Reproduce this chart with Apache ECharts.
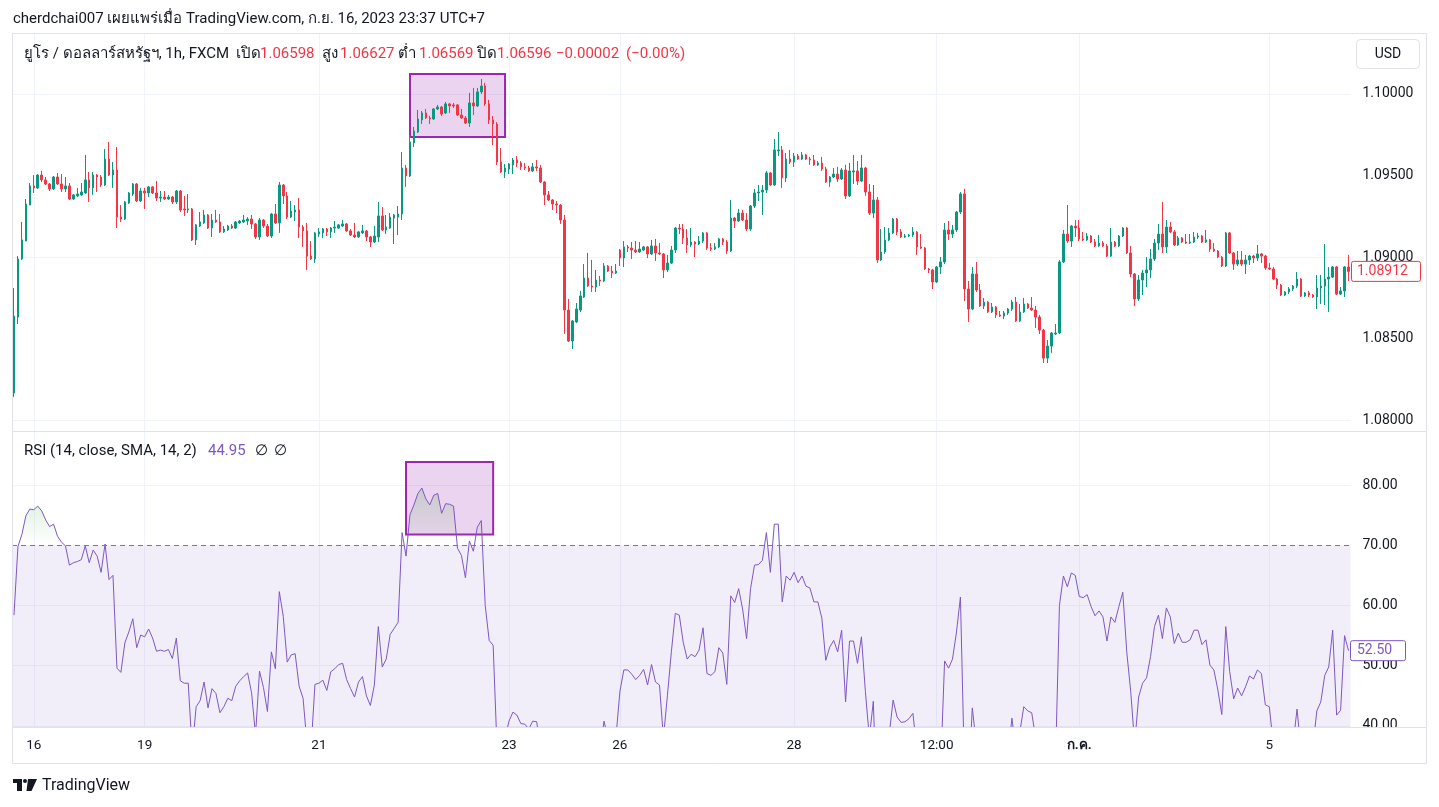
<!DOCTYPE html>
<html>
<head>
<meta charset="utf-8">
<title>EURUSD 1h RSI</title>
<script src="https://cdn.jsdelivr.net/npm/echarts@6/dist/echarts.min.js"></script>
<style>
html, body { margin:0; padding:0; background:#ffffff; }
#chart { width:1439px; height:807px; }
</style>
</head>
<body>
<div id="chart"></div>
<script>
// ---------------- data ----------------
const opens = [
1.08166,1.08632,1.08988,1.09098,1.09319,1.09436,1.09424,1.09503,1.09473,1.09448,
1.09418,1.09491,1.09448,1.09418,1.09436,1.09356,1.09375,1.09381,1.09393,1.09473,
1.09424,1.09503,1.09491,1.09442,1.09601,1.09503,1.09534,1.09245,1.09233,1.09332,
1.09387,1.09448,1.09344,1.09405,1.09393,1.09430,1.09393,1.09362,1.09368,1.09356,
1.09368,1.09338,1.09405,1.09295,1.09289,1.09295,1.09105,1.09190,1.09209,1.09258,
1.09178,1.09227,1.09215,1.09154,1.09166,1.09190,1.09178,1.09209,1.09215,1.09221,
1.09233,1.09203,1.09123,1.09227,1.09190,1.09129,1.09264,1.09209,1.09442,1.09375,
1.09245,1.09276,1.09289,1.09184,1.09160,1.09006,1.08988,1.09141,1.09148,1.09172,
1.09154,1.09178,1.09178,1.09190,1.09203,1.09160,1.09135,1.09123,1.09148,1.09160,
1.09123,1.09092,1.09123,1.09252,1.09166,1.09178,1.09239,1.09245,1.09264,1.09546,
1.09497,1.09700,1.09767,1.09841,1.09884,1.09853,1.09847,1.09908,1.09920,1.09884,
1.09939,1.09933,1.09933,1.09871,1.09853,1.09822,1.09945,1.09927,1.10013,1.10049,
1.09939,1.09841,1.09816,1.09583,1.09522,1.09540,1.09565,1.09595,1.09577,1.09553,
1.09546,1.09528,1.09553,1.09546,1.09460,1.09381,1.09350,1.09325,1.09319,1.09227,
1.08675,1.08485,1.08602,1.08675,1.08755,1.08871,1.08822,1.08816,1.08859,1.08853,
1.08945,1.08914,1.08902,1.09043,1.08994,1.09062,1.09055,1.09043,1.09031,1.09043,
1.09062,1.09019,1.09068,1.09025,1.09019,1.08921,1.08963,1.09043,1.09178,1.09172,
1.09117,1.09074,1.09092,1.09080,1.09098,1.09148,1.09055,1.09049,1.09062,1.09111,
1.09092,1.09037,1.09239,1.09221,1.09270,1.09227,1.09172,1.09313,1.09393,1.09399,
1.09411,1.09516,1.09442,1.09651,1.09657,1.09485,1.09601,1.09583,1.09620,1.09601,
1.09626,1.09601,1.09595,1.09565,1.09577,1.09540,1.09460,1.09491,1.09509,1.09479,
1.09534,1.09375,1.09522,1.09528,1.09466,1.09546,1.09399,1.09270,1.09350,1.08982,
1.09031,1.09105,1.09148,1.09233,1.09154,1.09123,1.09129,1.09135,1.09154,1.09062,
1.09055,1.08927,1.08921,1.08847,1.08939,1.08970,1.09166,1.09141,1.09166,1.09276,
1.09387,1.08804,1.08681,1.08896,1.08798,1.08700,1.08724,1.08663,1.08694,1.08645,
1.08638,1.08657,1.08681,1.08724,1.08608,1.08663,1.08712,1.08687,1.08675,1.08632,
1.08552,1.08380,1.08454,1.08528,1.08534,1.08970,1.09141,1.09098,1.09190,1.09178,
1.09111,1.09105,1.09129,1.09092,1.09068,1.09086,1.09068,1.09006,1.09092,1.09068,
1.09129,1.09178,1.09025,1.08896,1.08743,1.08859,1.08902,1.08921,1.08988,1.09086,
1.09141,1.09062,1.09184,1.09154,1.09074,1.09117,1.09092,1.09086,1.09092,1.09123,
1.09129,1.09092,1.09105,1.09049,1.09037,1.09000,1.08945,1.09148,1.09025,1.08957,
1.08982,1.08957,1.08982,1.09006,1.08994,1.09019,1.09006,1.08933,1.08927,1.08865,
1.08828,1.08767,1.08786,1.08804,1.08822,1.08865,1.08761,1.08780,1.08767,1.08755,
1.08810,1.08822,1.08865,1.08877,1.08939,1.08773,1.08792,1.08939
];
const closes = [
1.08638,1.08988,1.09105,1.09325,1.09436,1.09424,1.09503,1.09473,1.09448,1.09418,
1.09491,1.09448,1.09418,1.09436,1.09356,1.09381,1.09387,1.09399,1.09473,1.09424,
1.09503,1.09491,1.09442,1.09601,1.09503,1.09534,1.09245,1.09233,1.09338,1.09393,
1.09448,1.09344,1.09405,1.09393,1.09430,1.09393,1.09362,1.09368,1.09356,1.09368,
1.09338,1.09405,1.09289,1.09289,1.09295,1.09105,1.09197,1.09215,1.09258,1.09178,
1.09227,1.09215,1.09154,1.09172,1.09190,1.09178,1.09215,1.09221,1.09227,1.09233,
1.09203,1.09123,1.09227,1.09190,1.09129,1.09264,1.09209,1.09442,1.09375,1.09245,
1.09282,1.09289,1.09184,1.09160,1.09006,1.08988,1.09148,1.09154,1.09172,1.09154,
1.09178,1.09184,1.09197,1.09203,1.09160,1.09135,1.09123,1.09154,1.09160,1.09123,
1.09092,1.09129,1.09252,1.09166,1.09184,1.09245,1.09258,1.09264,1.09546,1.09497,
1.09706,1.09773,1.09847,1.09884,1.09853,1.09847,1.09908,1.09920,1.09877,1.09939,
1.09927,1.09927,1.09871,1.09853,1.09822,1.09945,1.09927,1.10013,1.10049,1.09939,
1.09841,1.09816,1.09583,1.09522,1.09546,1.09571,1.09595,1.09577,1.09553,1.09546,
1.09528,1.09553,1.09546,1.09460,1.09381,1.09350,1.09325,1.09319,1.09227,1.08675,
1.08485,1.08608,1.08681,1.08761,1.08871,1.08822,1.08816,1.08859,1.08853,1.08945,
1.08914,1.08902,1.08914,1.08994,1.09062,1.09055,1.09043,1.09031,1.09049,1.09062,
1.09019,1.09068,1.09025,1.09019,1.08921,1.08963,1.09043,1.09178,1.09172,1.09117,
1.09074,1.09092,1.09080,1.09098,1.09148,1.09055,1.09049,1.09062,1.09111,1.09092,
1.09037,1.09239,1.09221,1.09270,1.09227,1.09172,1.09313,1.09393,1.09399,1.09411,
1.09516,1.09442,1.09657,1.09657,1.09485,1.09601,1.09583,1.09620,1.09601,1.09626,
1.09601,1.09595,1.09565,1.09577,1.09540,1.09460,1.09491,1.09509,1.09479,1.09534,
1.09375,1.09528,1.09528,1.09466,1.09546,1.09399,1.09270,1.09350,1.08982,1.09031,
1.09105,1.09148,1.09233,1.09154,1.09123,1.09129,1.09135,1.09154,1.09062,1.09055,
1.08927,1.08921,1.08847,1.08939,1.08970,1.09166,1.09141,1.09166,1.09276,1.09387,
1.08804,1.08681,1.08896,1.08798,1.08700,1.08724,1.08663,1.08694,1.08645,1.08638,
1.08657,1.08681,1.08724,1.08608,1.08663,1.08712,1.08687,1.08675,1.08632,1.08552,
1.08380,1.08454,1.08534,1.08534,1.08970,1.09141,1.09098,1.09190,1.09178,1.09111,
1.09105,1.09129,1.09092,1.09068,1.09086,1.09068,1.09006,1.09092,1.09068,1.09129,
1.09178,1.09025,1.08896,1.08743,1.08859,1.08902,1.08921,1.08988,1.09086,1.09141,
1.09062,1.09184,1.09154,1.09074,1.09117,1.09092,1.09086,1.09092,1.09123,1.09129,
1.09092,1.09105,1.09049,1.09037,1.09000,1.08945,1.09148,1.09025,1.08957,1.08982,
1.08957,1.08982,1.09006,1.08994,1.09019,1.09006,1.08933,1.08927,1.08865,1.08828,
1.08767,1.08786,1.08804,1.08822,1.08865,1.08761,1.08780,1.08767,1.08755,1.08810,
1.08822,1.08865,1.08877,1.08939,1.08773,1.08792,1.08939,1.08912
];
const lows = [
1.08142,1.08589,1.08982,1.09098,1.09319,1.09393,1.09418,1.09460,1.09442,1.09405,
1.09411,1.09442,1.09399,1.09399,1.09350,1.09350,1.09368,1.09375,1.09387,1.09338,
1.09381,1.09399,1.09430,1.09436,1.09497,1.09424,1.09178,1.09215,1.09227,1.09325,
1.09375,1.09338,1.09338,1.09295,1.09368,1.09387,1.09344,1.09338,1.09350,1.09350,
1.09325,1.09325,1.09276,1.09252,1.09270,1.09098,1.09074,1.09184,1.09203,1.09172,
1.09123,1.09209,1.09148,1.09148,1.09160,1.09172,1.09172,1.09203,1.09209,1.09197,
1.09172,1.09111,1.09105,1.09178,1.09123,1.09117,1.09203,1.09148,1.09325,1.09233,
1.09239,1.09221,1.09117,1.09062,1.08921,1.08982,1.08964,1.09123,1.09117,1.09129,
1.09117,1.09148,1.09172,1.09184,1.09154,1.09129,1.09117,1.09117,1.09141,1.09098,
1.09062,1.09086,1.09092,1.09160,1.09141,1.09172,1.09080,1.09135,1.09227,1.09430,
1.09491,1.09675,1.09761,1.09816,1.09847,1.09816,1.09841,1.09902,1.09865,1.09877,
1.09884,1.09914,1.09865,1.09847,1.09816,1.09798,1.09871,1.09920,1.10000,1.09927,
1.09816,1.09687,1.09565,1.09516,1.09485,1.09509,1.09509,1.09553,1.09534,1.09534,
1.09522,1.09522,1.09528,1.09454,1.09319,1.09344,1.09289,1.09270,1.09203,1.08528,
1.08479,1.08436,1.08595,1.08663,1.08749,1.08816,1.08786,1.08786,1.08822,1.08847,
1.08908,1.08871,1.08896,1.08945,1.08939,1.09031,1.08988,1.09025,1.09025,1.09037,
1.08994,1.09013,1.08976,1.09013,1.08871,1.08908,1.08957,1.09025,1.09141,1.09080,
1.09025,1.09062,1.09000,1.09074,1.09086,1.09043,1.09037,1.09043,1.09055,1.09074,
1.09019,1.09031,1.09178,1.09215,1.09221,1.09160,1.09160,1.09301,1.09344,1.09258,
1.09393,1.09436,1.09436,1.09620,1.09424,1.09460,1.09571,1.09553,1.09595,1.09595,
1.09595,1.09565,1.09559,1.09559,1.09528,1.09454,1.09430,1.09485,1.09460,1.09473,
1.09356,1.09368,1.09448,1.09442,1.09460,1.09375,1.09258,1.09239,1.08964,1.08976,
1.09019,1.09098,1.09141,1.09135,1.09117,1.09117,1.09123,1.09123,1.09013,1.09049,
1.08921,1.08902,1.08804,1.08841,1.08896,1.08957,1.09105,1.09117,1.09154,1.09264,
1.08730,1.08602,1.08675,1.08786,1.08694,1.08681,1.08657,1.08657,1.08626,1.08632,
1.08620,1.08645,1.08669,1.08602,1.08602,1.08657,1.08681,1.08669,1.08565,1.08528,
1.08350,1.08350,1.08411,1.08522,1.08528,1.08964,1.09086,1.09062,1.09123,1.09098,
1.09098,1.09098,1.09086,1.09062,1.09062,1.09062,1.09000,1.09000,1.09062,1.09062,
1.09123,1.09019,1.08877,1.08700,1.08730,1.08767,1.08816,1.08871,1.08976,1.09043,
1.09025,1.09025,1.09148,1.09068,1.09068,1.09086,1.09080,1.09080,1.09086,1.09111,
1.09086,1.09086,1.09031,1.09031,1.08994,1.08939,1.08939,1.09019,1.08921,1.08945,
1.08945,1.08896,1.08951,1.08963,1.08976,1.08963,1.08921,1.08921,1.08859,1.08804,
1.08761,1.08761,1.08773,1.08792,1.08810,1.08755,1.08755,1.08755,1.08749,1.08681,
1.08712,1.08706,1.08663,1.08871,1.08767,1.08767,1.08755,1.08853
];
const highs = [
1.08810,1.09006,1.09215,1.09356,1.09454,1.09503,1.09509,1.09528,1.09491,1.09454,
1.09497,1.09516,1.09509,1.09491,1.09454,1.09387,1.09424,1.09454,1.09626,1.09522,
1.09522,1.09509,1.09503,1.09663,1.09706,1.09583,1.09675,1.09319,1.09344,1.09399,
1.09454,1.09454,1.09424,1.09424,1.09436,1.09436,1.09466,1.09405,1.09405,1.09381,
1.09375,1.09411,1.09411,1.09375,1.09387,1.09301,1.09203,1.09276,1.09289,1.09264,
1.09264,1.09289,1.09264,1.09190,1.09197,1.09203,1.09221,1.09227,1.09258,1.09245,
1.09258,1.09209,1.09239,1.09233,1.09203,1.09270,1.09325,1.09460,1.09448,1.09399,
1.09344,1.09319,1.09362,1.09197,1.09209,1.09098,1.09154,1.09178,1.09178,1.09178,
1.09184,1.09221,1.09203,1.09227,1.09209,1.09172,1.09209,1.09160,1.09197,1.09166,
1.09129,1.09190,1.09338,1.09307,1.09258,1.09270,1.09264,1.09313,1.09644,1.09565,
1.09749,1.09798,1.09902,1.09896,1.09908,1.09866,1.09914,1.09933,1.09927,1.09951,
1.09945,1.09945,1.09939,1.09908,1.09865,1.10007,1.10037,1.10037,1.10092,1.10068,
1.09964,1.09865,1.09828,1.09669,1.09571,1.09577,1.09608,1.09620,1.09589,1.09577,
1.09559,1.09577,1.09595,1.09565,1.09466,1.09405,1.09356,1.09344,1.09325,1.09258,
1.08743,1.08614,1.08718,1.08792,1.08957,1.09025,1.08982,1.08921,1.08884,1.08963,
1.08951,1.08945,1.08957,1.09049,1.09098,1.09074,1.09092,1.09098,1.09092,1.09068,
1.09068,1.09105,1.09111,1.09086,1.09025,1.09013,1.09068,1.09184,1.09203,1.09203,
1.09172,1.09178,1.09098,1.09129,1.09154,1.09154,1.09086,1.09086,1.09117,1.09117,
1.09105,1.09350,1.09245,1.09295,1.09289,1.09270,1.09319,1.09418,1.09442,1.09442,
1.09528,1.09522,1.09724,1.09767,1.09681,1.09638,1.09657,1.09638,1.09632,1.09644,
1.09632,1.09614,1.09626,1.09589,1.09614,1.09553,1.09497,1.09546,1.09553,1.09546,
1.09565,1.09577,1.09626,1.09589,1.09626,1.09553,1.09448,1.09442,1.09368,1.09172,
1.09184,1.09178,1.09239,1.09239,1.09172,1.09141,1.09141,1.09184,1.09160,1.09141,
1.09062,1.08933,1.08927,1.08945,1.09000,1.09209,1.09221,1.09197,1.09282,1.09399,
1.09418,1.08853,1.08939,1.08970,1.08835,1.08749,1.08730,1.08718,1.08700,1.08669,
1.08669,1.08687,1.08737,1.08755,1.08712,1.08749,1.08718,1.08755,1.08700,1.08645,
1.08559,1.08491,1.08540,1.08589,1.08982,1.09166,1.09319,1.09197,1.09227,1.09227,
1.09154,1.09148,1.09135,1.09111,1.09135,1.09098,1.09080,1.09178,1.09098,1.09135,
1.09184,1.09184,1.09068,1.08902,1.08890,1.08921,1.09000,1.09049,1.09111,1.09203,
1.09338,1.09227,1.09215,1.09166,1.09129,1.09123,1.09141,1.09141,1.09154,1.09148,
1.09135,1.09166,1.09111,1.09086,1.09043,1.09006,1.09154,1.09154,1.09031,1.09037,
1.09037,1.09013,1.09013,1.09013,1.09074,1.09025,1.09013,1.08963,1.08939,1.08871,
1.08835,1.08792,1.08816,1.08828,1.08908,1.08871,1.08786,1.08792,1.08773,1.08890,
1.08890,1.09080,1.08939,1.08945,1.08945,1.08816,1.08945,1.09013
];
const rsiValues = [
58.4,69.8,71.8,74.9,76.0,75.9,76.5,75.7,74.2,73.1,
73.5,71.5,70.5,69.9,66.7,67.1,67.3,67.6,69.9,67.1,
69.2,68.2,65.5,70.2,64.3,65.0,49.6,48.9,53.8,55.6,
57.8,53.0,55.1,54.8,56.1,54.6,52.4,52.6,52.4,52.7,
51.2,54.6,47.5,47.1,47.1,36.0,43.2,44.2,47.3,43.0,
46.2,45.4,42.2,43.2,44.6,44.2,46.6,47.5,48.2,48.8,
45.5,38.5,49.1,46.4,42.4,52.3,49.5,62.3,58.2,50.6,
51.8,52.0,46.6,44.6,37.0,36.0,46.9,47.1,47.6,45.9,
49.0,49.5,50.2,50.4,47.7,46.2,44.8,47.3,48.2,45.0,
43.4,46.8,56.5,49.8,51.1,55.2,56.2,57.2,72.1,68.2,
75.1,76.7,78.6,79.5,77.7,76.7,78.3,78.6,75.3,76.9,
76.8,76.5,69.5,68.3,64.6,70.7,69.0,73.0,74.1,60.0,
54.2,53.4,36.0,34.0,38.0,40.8,42.3,41.8,40.4,40.3,
39.5,40.8,40.7,36.0,30.0,28.0,26.0,26.0,23.0,14.0,
12.0,20.0,26.0,30.0,36.0,34.0,34.0,36.0,36.0,40.8,
38.0,37.0,38.0,45.7,49.3,49.3,48.6,47.7,48.4,49.4,
46.8,50.2,47.3,46.8,38.0,45.0,52.3,58.7,58.4,53.9,
51.1,51.9,51.5,52.6,56.3,48.7,48.4,49.0,53.0,52.1,
46.9,61.6,60.5,62.8,59.4,54.5,62.8,66.7,66.8,67.5,
72.1,65.5,73.5,73.5,60.6,64.9,64.2,65.5,63.8,64.9,
63.2,62.9,60.6,60.6,57.9,50.9,53.1,54.2,52.3,55.9,
44.0,54.1,54.1,50.4,54.8,45.7,38.0,44.1,25.0,30.0,
37.0,38.5,44.3,41.5,40.6,40.7,41.2,42.1,36.0,33.0,
28.0,28.0,25.0,31.0,33.0,50.8,49.6,51.1,55.6,61.4,
33.0,30.0,43.0,37.0,33.0,35.0,32.0,34.0,31.0,31.0,
32.0,35.0,41.3,36.0,39.0,43.2,42.5,42.2,38.0,34.0,
27.0,30.0,33.0,33.5,60.0,64.9,63.1,65.4,65.0,61.5,
61.3,61.8,59.8,58.3,59.1,58.1,54.1,58.1,57.2,59.8,
62.2,52.3,45.7,37.0,44.8,47.1,48.0,51.5,56.5,58.4,
54.5,59.6,58.1,53.7,55.4,53.9,53.9,54.3,55.9,55.9,
53.5,54.3,50.1,49.3,46.0,41.9,56.5,49.0,44.5,46.3,
45.0,46.5,48.3,47.8,49.3,48.7,43.5,43.2,37.0,34.0,
30.0,33.0,35.0,37.0,42.8,36.0,37.5,37.0,36.5,42.5,
44.0,48.4,49.8,55.9,41.8,42.6,55.0,52.5
];
// time-axis ticks (1-based bar number -> label)
const tickBars   = [6, 34, 78, 126, 154, 198, 234, 270, 318];
const tickLabels = ['16', '19', '21', '23', '26', '28', '12:00', 'ก.ค.', '5'];
const priceTicks = [1.08, 1.085, 1.09, 1.095, 1.10];
const rsiTicks   = [40, 50, 60, 70, 80];
const rsiBand    = [30, 70];
const priceRange = [1.07933, 1.10368];
const rsiRange   = [39.83, 88.8];
// drawn rectangles (bar numbers, values)
const priceBox = [101, 125, 1.10123, 1.09736];
const rsiBox   = [100, 122, 83.8, 71.8];
// legend texts
const symbolName = 'ยูโร / ดอลลาร์สหรัฐฯ, 1h, FXCM';
const legendOHLC = ['1.06598', '1.06627', '1.06569', '1.06596'];
const legendChange = ['−0.00002', '(−0.00%)'];
const rsiTitle = 'RSI (14, close, SMA, 14, 2)';
const rsiLegendValue = '44.95';

// ---------------- chart ----------------
const FONT = "Roboto, 'Noto Sans', 'DejaVu Sans', 'Liberation Sans', sans-serif";
const UP = '#089981', DOWN = '#f23645', TXT = '#131722', GRID = '#f0f3fa';
const chart = echarts.init(document.getElementById('chart'), null, {renderer: 'canvas'});

const cats = opens.map((_, i) => String(i));
const candles = opens.map((o, i) => [o, closes[i], lows[i], highs[i]]);
const tickPos = tickBars.map(b => b - 1);
const tickSet = new Set(tickPos);
const obValues = rsiValues.map(v => Math.max(v, rsiBand[1]));
const vLines = tickPos.map(p => ({xAxis: p}));

const gridLineMark = (extra) => ({
  silent: true, symbol: ['none', 'none'], z: 0, animation: false,
  label: {show: false},
  lineStyle: {color: GRID, width: 1, type: 'solid'},
  emphasis: {disabled: true},
  data: vLines.concat(extra)
});

const option = {
  animation: false,
  backgroundColor: '#ffffff',
  textStyle: {fontFamily: FONT},
  grid: [
    {left: 12, right: 88.5, top: 34, height: 397},
    {left: 12, right: 88.5, top: 432, height: 295}
  ],
  xAxis: [
    {type: 'category', gridIndex: 0, data: cats, boundaryGap: true,
     axisLine: {show: false}, axisTick: {show: false}, axisLabel: {show: false}, splitLine: {show: false}},
    {type: 'category', gridIndex: 1, data: cats, boundaryGap: true,
     axisLine: {show: false}, axisTick: {show: false}, splitLine: {show: false},
     axisLabel: {
       interval: (i) => tickSet.has(i),
       formatter: (v) => {
         const k = tickPos.indexOf(Number(v));
         if (k < 0) return '';
         const t = tickLabels[k];
         return /^[0-9]/.test(t) ? t : '{b|' + t + '}';
       },
       color: TXT, fontSize: 13.5, margin: 12, fontFamily: FONT,
       rich: {b: {fontWeight: 'bold', fontSize: 13.5, color: TXT, fontFamily: FONT}}
     }}
  ],
  yAxis: [
    {type: 'value', gridIndex: 0, position: 'right', min: priceRange[0], max: priceRange[1],
     axisLine: {show: false}, splitLine: {show: false},
     axisTick: {show: false, customValues: priceTicks},
     axisLabel: {customValues: priceTicks, formatter: v => v.toFixed(5), color: TXT, fontSize: 14, margin: 12, fontFamily: FONT}},
    {type: 'value', gridIndex: 1, position: 'right', min: rsiRange[0], max: rsiRange[1],
     axisLine: {show: false}, splitLine: {show: false},
     axisTick: {show: false, customValues: rsiTicks},
     axisLabel: {customValues: rsiTicks, formatter: v => v.toFixed(2), color: TXT, fontSize: 14, margin: 12, fontFamily: FONT}}
  ],
  series: [
    {name: 'gridMain', type: 'line', xAxisIndex: 0, yAxisIndex: 0, data: [], z: 0, silent: true,
     markLine: gridLineMark(priceTicks.map(v => ({yAxis: v})))},
    {name: 'gridRsi', type: 'line', xAxisIndex: 1, yAxisIndex: 1, data: [], z: 0, silent: true,
     markLine: gridLineMark(rsiTicks.filter(v => v !== rsiBand[1]).map(v => ({yAxis: v})))},
    {name: 'EURUSD', type: 'candlestick', xAxisIndex: 0, yAxisIndex: 0, data: candles,
     barWidth: 2, silent: true, z: 3,
     itemStyle: {color: UP, color0: DOWN, borderColor: UP, borderColor0: DOWN, borderWidth: 1},
     markArea: {silent: true,
       itemStyle: {color: 'rgba(156,39,176,0.2)', borderColor: '#9c27b0', borderWidth: 2},
       data: [[{xAxis: priceBox[0] - 1, yAxis: priceBox[2]}, {xAxis: priceBox[1] - 1, yAxis: priceBox[3]}]]}},
    {name: 'rsiBand', type: 'line', xAxisIndex: 1, yAxisIndex: 1, data: [], z: 1, silent: true,
     markArea: {silent: true, itemStyle: {color: 'rgba(126,87,194,0.1)'},
       data: [[{yAxis: rsiBand[1]}, {yAxis: Math.max(rsiBand[0], rsiRange[0])}]]},
     markLine: {silent: true, symbol: ['none', 'none'], label: {show: false},
       lineStyle: {color: '#787b86', width: 1, type: [5, 4]},
       data: [{yAxis: rsiBand[1]}]}},
    {name: 'overbought', type: 'line', xAxisIndex: 1, yAxisIndex: 1, data: obValues,
     symbol: 'none', silent: true, z: 2, lineStyle: {width: 0, opacity: 0},
     areaStyle: {origin: rsiBand[1],
       color: new echarts.graphic.LinearGradient(0, 0, 0, 1, [
         {offset: 0, color: 'rgba(76,175,80,0.32)'}, {offset: 1, color: 'rgba(76,175,80,0)'}])}},
    {name: 'RSI', type: 'line', xAxisIndex: 1, yAxisIndex: 1, data: rsiValues,
     symbol: 'none', silent: true, z: 3, clip: true,
     lineStyle: {color: '#7e57c2', width: 1},
     markArea: {silent: true,
       itemStyle: {color: 'rgba(156,39,176,0.2)', borderColor: '#9c27b0', borderWidth: 2},
       data: [[{xAxis: rsiBox[0] - 1, yAxis: rsiBox[2]}, {xAxis: rsiBox[1] - 1, yAxis: rsiBox[3]}]]}}
  ]
};
chart.setOption(option);

// ---------- overlay texts / frame ----------
const lastClose = closes[closes.length - 1];
const lastRsi = rsiValues[rsiValues.length - 1];
const yPrice = chart.convertToPixel({yAxisIndex: 0}, lastClose);
const yRsi = chart.convertToPixel({yAxisIndex: 1}, lastRsi);
const T = (x, y, text, fill, size, align) => ({
  type: 'text', x: x, y: y, silent: true, z: 100,
  style: {text: text, fill: fill, font: (size || 13) + 'px ' + FONT, textVerticalAlign: 'middle', textAlign: align || 'left'}
});
const L = (x1, y1, x2, y2, color) => ({type: 'line', silent: true, z: 90,
  shape: {x1: x1, y1: y1, x2: x2, y2: y2}, style: {stroke: color || '#e0e3eb', lineWidth: 1}});

const LG = 15; // legend font size
const graphics = [
  // frame & separators
  {type: 'rect', silent: true, z: 90, shape: {x: 12.5, y: 33.5, width: 1414, height: 730},
   style: {fill: null, stroke: '#e0e3eb', lineWidth: 1}},
  L(12, 431.5, 1426, 431.5),
  L(12, 727.5, 1426, 727.5),
  {type: 'rect', silent: true, z: 95, shape: {x: 1351, y: 728, width: 75, height: 35}, style: {fill: '#ffffff'}},
  // header
  T(13, 19, 'cherdchai007 เผยแพร่เมื่อ TradingView.com, ก.ย. 16, 2023 23:37 UTC+7', TXT, 15),
  T(24, 54, symbolName, TXT, LG),
  T(236, 54, 'เปิด', TXT, LG), T(260, 54, legendOHLC[0], DOWN, LG),
  T(322, 54, 'สูง', TXT, LG), T(340, 54, legendOHLC[1], DOWN, LG),
  T(398, 54, 'ต่ำ', TXT, LG), T(419, 54, legendOHLC[2], DOWN, LG),
  T(477, 54, 'ปิด', TXT, LG), T(497, 54, legendOHLC[3], DOWN, LG),
  T(556, 54, legendChange[0], DOWN, LG), T(626, 54, legendChange[1], DOWN, LG),
  // USD button
  {type: 'rect', silent: true, z: 100, shape: {x: 1356.5, y: 39.5, width: 63, height: 29, r: 4},
   style: {fill: '#ffffff', stroke: '#e0e3eb', lineWidth: 1}},
  T(1388, 54, 'USD', TXT, 14, 'center'),
  // RSI legend
  T(24, 451, rsiTitle, TXT, LG),
  T(208, 451, rsiLegendValue, '#7e57c2', LG),
  T(255, 451, '∅', TXT, LG), T(274, 451, '∅', TXT, LG),
  // last price label
  {type: 'rect', silent: true, z: 100, shape: {x: 1351.5, y: yPrice - 10, width: 69, height: 20, r: 2},
   style: {fill: '#ffffff', stroke: DOWN, lineWidth: 1}},
  T(1357, yPrice, lastClose.toFixed(5), DOWN, 14),
  // last RSI label
  {type: 'rect', silent: true, z: 100, shape: {x: 1350.5, y: yRsi - 10, width: 55, height: 20, r: 2},
   style: {fill: '#ffffff', stroke: '#7e57c2', lineWidth: 1}},
  T(1357, yRsi, lastRsi.toFixed(2), '#7e57c2', 14),
  // TradingView logo
  {type: 'rect', silent: true, z: 100, shape: {x: 13, y: 779, width: 9, height: 4}, style: {fill: TXT}},
  {type: 'rect', silent: true, z: 100, shape: {x: 17, y: 779, width: 5, height: 12}, style: {fill: TXT}},
  {type: 'circle', silent: true, z: 100, shape: {cx: 25, cy: 781, r: 2}, style: {fill: TXT}},
  {type: 'polygon', silent: true, z: 100, shape: {points: [[28, 779], [37, 779], [31.5, 791], [26.5, 791]]}, style: {fill: TXT}},
  T(42, 786, 'TradingView', TXT, 16)
];
chart.setOption({graphic: graphics});
</script>
</body>
</html>
